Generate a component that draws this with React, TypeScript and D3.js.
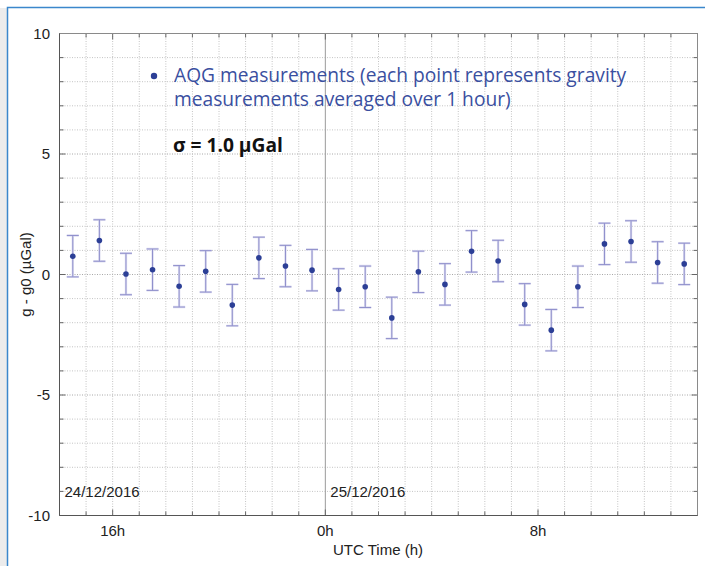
import React, { useRef, useEffect } from "react";
import * as d3 from "d3";

// hourly averages, time of centre of each hour (UTC)
const times = [
  "2016-12-24T14:30Z", "2016-12-24T15:30Z", "2016-12-24T16:30Z", "2016-12-24T17:30Z",
  "2016-12-24T18:30Z", "2016-12-24T19:30Z", "2016-12-24T20:30Z", "2016-12-24T21:30Z",
  "2016-12-24T22:30Z", "2016-12-24T23:30Z", "2016-12-25T00:30Z", "2016-12-25T01:30Z",
  "2016-12-25T02:30Z", "2016-12-25T03:30Z", "2016-12-25T04:30Z", "2016-12-25T05:30Z",
  "2016-12-25T06:30Z", "2016-12-25T07:30Z", "2016-12-25T08:30Z", "2016-12-25T09:30Z",
  "2016-12-25T10:30Z", "2016-12-25T11:30Z", "2016-12-25T12:30Z", "2016-12-25T13:30Z",
];
const values = [
  0.76, 1.41, 0.02, 0.2, -0.49, 0.13, -1.27, 0.69, 0.35, 0.18, -0.62, -0.51,
  -1.8, 0.11, -0.41, 0.96, 0.56, -1.24, -2.31, -0.51, 1.27, 1.37, 0.5, 0.44,
];
const errors = [
  0.86, 0.86, 0.86, 0.86, 0.86, 0.86, 0.86, 0.86, 0.86, 0.86, 0.86, 0.86,
  0.86, 0.86, 0.86, 0.86, 0.86, 0.86, 0.86, 0.86, 0.86, 0.86, 0.86, 0.86,
];
const xDomain = ["2016-12-24T14:00Z", "2016-12-25T14:00Z"];
const xLabelTicks = ["2016-12-24T16:00Z", "2016-12-25T00:00Z", "2016-12-25T08:00Z"];
const dayLabels = [
  { t: "2016-12-24T14:00Z", text: "24/12/2016" },
  { t: "2016-12-25T00:00Z", text: "25/12/2016" },
];
const yTickLabels = [10, 5, 0, -5, -10];
const legendLines = [
  "AQG measurements (each point represents gravity",
  "measurements averaged over 1 hour)",
];
const sigmaText = "σ = 1.0 µGal";

export default function App() {
  const svgRef = useRef<SVGSVGElement>(null);

  useEffect(() => {
    const width = 705;
    const height = 566;
    const svg = d3.select(svgRef.current);
    svg.selectAll("*").remove();
    svg.attr("width", width).attr("height", height);

    const left = 59.5, right = 697.5, top = 33.5, bottom = 515.5;
    const axisFont = "'Liberation Sans', Arial, sans-serif";
    const textFont = "'Open Sans', 'Noto Sans', sans-serif";

    // frame of the page
    svg.append("rect").attr("x", 0).attr("y", 8).attr("width", 7).attr("height", height).attr("fill", "#ececec");
    svg.append("path")
      .attr("d", `M7.5,${height} V7.5 H${width}`)
      .attr("fill", "none")
      .attr("stroke", "#3b87cc")
      .attr("stroke-width", 1.5);

    const x = d3.scaleUtc()
      .domain(xDomain.map((d) => new Date(d)))
      .range([left, right]);
    const y = d3.scaleLinear().domain([-10, 10]).range([bottom, top]);

    const hours = x.ticks(d3.utcHour.every(1));
    const units = d3.range(-10, 11);

    // grid
    const grid = svg.append("g");
    grid.selectAll(".hg")
      .data(units)
      .join("line")
      .attr("x1", left).attr("x2", right)
      .attr("y1", (d) => y(d)).attr("y2", (d) => y(d))
      .attr("stroke", (d) => (d % 5 === 0 ? "#a8a8a8" : "#c4c4c4"))
      .attr("stroke-dasharray", "1,1.5");
    grid.selectAll(".vg")
      .data(hours)
      .join("line")
      .attr("x1", (d) => x(d)).attr("x2", (d) => x(d))
      .attr("y1", top).attr("y2", bottom)
      .attr("stroke", (d) => (d.getUTCHours() === 0 ? "#9a9a9a" : "#c4c4c4"))
      .attr("stroke-dasharray", (d) => (d.getUTCHours() === 0 ? null : "1,1.5"));

    // ticks
    const ticks = svg.append("g").attr("stroke", "#666");
    units.forEach((u) => {
      const len = u % 5 === 0 ? 6 : 4;
      ticks.append("line").attr("x1", left).attr("x2", left + len).attr("y1", y(u)).attr("y2", y(u));
      ticks.append("line").attr("x1", right).attr("x2", right - len).attr("y1", y(u)).attr("y2", y(u));
    });
    hours.forEach((h) => {
      const len = h.getUTCHours() % 8 === 0 ? 6 : 4;
      ticks.append("line").attr("x1", x(h)).attr("x2", x(h)).attr("y1", bottom).attr("y2", bottom - len);
      ticks.append("line").attr("x1", x(h)).attr("x2", x(h)).attr("y1", top).attr("y2", top + len);
    });

    // box
    svg.append("path").attr("d", `M${left},${top} H${right} V${bottom}`).attr("fill", "none").attr("stroke", "#8a8a8a");
    svg.append("path").attr("d", `M${left},${top} V${bottom} H${right}`).attr("fill", "none").attr("stroke", "#555");

    // y tick labels
    svg.append("g")
      .selectAll("text")
      .data(yTickLabels)
      .join("text")
      .attr("x", 50)
      .attr("y", (d) => y(d) + 5)
      .attr("text-anchor", "end")
      .attr("font-family", axisFont)
      .attr("font-size", 15)
      .attr("fill", "#222")
      .text((d) => d);

    // x tick labels
    svg.append("g")
      .selectAll("text")
      .data(xLabelTicks.map((d) => new Date(d)))
      .join("text")
      .attr("x", (d) => x(d))
      .attr("y", 536)
      .attr("text-anchor", "middle")
      .attr("font-family", axisFont)
      .attr("font-size", 15)
      .attr("fill", "#222")
      .text((d) => `${d.getUTCHours()}h`);

    // day labels
    svg.append("g")
      .selectAll("text")
      .data(dayLabels)
      .join("text")
      .attr("x", (d) => x(new Date(d.t)) + 5)
      .attr("y", 497)
      .attr("font-family", axisFont)
      .attr("font-size", 15)
      .attr("fill", "#222")
      .text((d) => d.text);

    // axis titles
    svg.append("text")
      .attr("x", 378).attr("y", 555)
      .attr("text-anchor", "middle")
      .attr("font-family", axisFont).attr("font-size", 15).attr("fill", "#222")
      .text("UTC Time (h)");
    svg.append("text")
      .attr("transform", `translate(31,${y(0)}) rotate(-90)`)
      .attr("text-anchor", "middle")
      .attr("font-family", axisFont).attr("font-size", 15).attr("fill", "#222")
      .text("g - g0 (µGal)");

    // data
    const pts = times.map((t, i) => ({ t: new Date(t), v: values[i], e: errors[i] }));
    const bars = svg.append("g").attr("fill", "none");
    ["#e0e0f2", "#8e8ecb"].forEach((col, k) => {
      const sw = k === 0 ? 2.4 : 1;
      bars.selectAll(`.eb${k}`)
        .data(pts)
        .join("path")
        .attr("class", `eb${k}`)
        .attr("stroke", col)
        .attr("stroke-width", sw)
        .attr("d", (d) => {
          const cx = x(d.t), y0 = y(d.v - d.e), y1 = y(d.v + d.e);
          return `M${cx - 6},${y1} H${cx + 6} M${cx},${y1} V${y0} M${cx - 6},${y0} H${cx + 6}`;
        });
    });
    svg.append("g")
      .selectAll("circle")
      .data(pts)
      .join("circle")
      .attr("cx", (d) => x(d.t))
      .attr("cy", (d) => y(d.v))
      .attr("r", 2.8)
      .attr("fill", "#2c3f96");

    // legend
    svg.append("circle").attr("cx", 154).attr("cy", 76).attr("r", 3.2).attr("fill", "#2c3f96");
    svg.append("g")
      .selectAll("text")
      .data(legendLines)
      .join("text")
      .attr("x", 174)
      .attr("y", (d, i) => 82 + i * 23.5)
      .attr("font-family", textFont)
      .attr("font-size", 19.2)
      .attr("fill", "#3a4fa0")
      .text((d) => d);
    svg.append("text")
      .attr("x", 173).attr("y", 152)
      .attr("font-family", textFont)
      .attr("font-size", 19.2)
      .attr("font-weight", "bold")
      .attr("fill", "#111")
      .text(sigmaText);
  }, []);

  return (
    <div style={{ position: "absolute", left: 0, top: 0, background: "#fff" }}>
      <svg ref={svgRef}></svg>
    </div>
  );
}
